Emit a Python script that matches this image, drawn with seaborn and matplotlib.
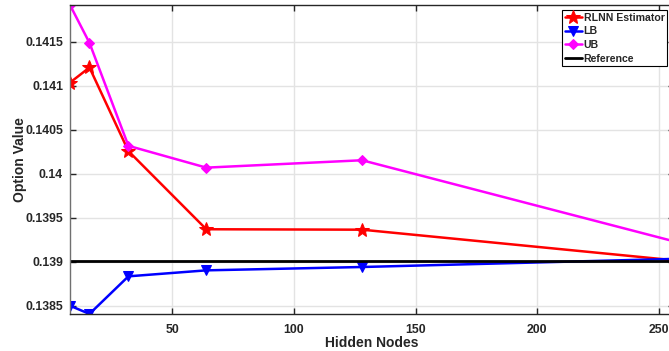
import numpy as np
import matplotlib
matplotlib.use("Agg")
import matplotlib.pyplot as plt
import seaborn as sns
import pandas as pd
from matplotlib.ticker import FuncFormatter

# values

hidden_nodes = [8, 16, 32, 64, 128, 256]
rlnn = [0.141038, 0.14121, 0.14026, 0.139372, 0.139367, 0.13902]
lb = [0.138503, 0.13841, 0.138837, 0.138905, 0.138943, 0.139035]
ub = [0.14192, 0.14149, 0.14032, 0.140072, 0.140156, 0.139236]
reference = 0.139008

yticks = [0.1385, 0.139, 0.1395, 0.14, 0.1405, 0.141, 0.1415]
xticks = [50, 100, 150, 200, 250]

sns.set_style("whitegrid")
plt.rcParams['font.family'] = ['Liberation Sans', 'DejaVu Sans']
plt.rcParams['font.weight'] = 'bold'

fig = plt.figure(figsize=(6.69, 3.51), dpi=100)
ax = fig.add_axes([70 / 669, 37 / 351, 603.6 / 669, 309 / 351])

sns.lineplot(x=hidden_nodes, y=rlnn, ax=ax, color='red', marker='*', markersize=10,
             markeredgecolor='red', linewidth=1.8, label='RLNN Estimator')
sns.lineplot(x=hidden_nodes, y=lb, ax=ax, color='blue', marker='v', markersize=7,
             markeredgecolor='blue', linewidth=1.8, label='LB')
sns.lineplot(x=hidden_nodes, y=ub, ax=ax, color='magenta', marker='D', markersize=5,
             markeredgecolor='magenta', linewidth=1.8, label='UB')
ax.axhline(reference, color='black', linewidth=2, label='Reference')

ax.set_xlim(8, 256)
ax.set_ylim(0.138409, 0.14192)
ax.set_xticks(xticks)
ax.set_yticks(yticks)
ax.yaxis.set_major_formatter(FuncFormatter(lambda v, p: f'{v:g}'))

ax.grid(True, color='#e3e3e3', linewidth=1)
for s in ax.spines.values():
    s.set_color('#262626')
    s.set_linewidth(1)
ax.spines['left'].set_color('#707070')
ax.tick_params(direction='in', length=4, width=1, colors='#262626',
               labelsize=8.8, top=True, right=True, left=True, bottom=True)
ax.tick_params(axis='x', pad=7)
ax.tick_params(axis='y', pad=5)
for lbl in ax.get_xticklabels() + ax.get_yticklabels():
    lbl.set_fontweight('bold')

ax.set_xlabel('Hidden Nodes', fontsize=10, fontweight='bold', labelpad=0, color='#262626')
ax.set_ylabel('Option Value', fontsize=10, fontweight='bold', labelpad=-1, color='#262626')

leg = ax.legend(loc='upper left', bbox_to_anchor=(562 / 669, 1 - 10 / 351),
                bbox_transform=fig.transFigure, fontsize=7.6, frameon=True,
                fancybox=False, edgecolor='black', framealpha=1,
                borderpad=0.25, labelspacing=0.35, handlelength=1.6, handletextpad=0.2,
                borderaxespad=0)
leg.get_frame().set_linewidth(0.8)
for t in leg.get_texts():
    t.set_fontweight('bold')

plt.savefig('out.png', dpi=100)
